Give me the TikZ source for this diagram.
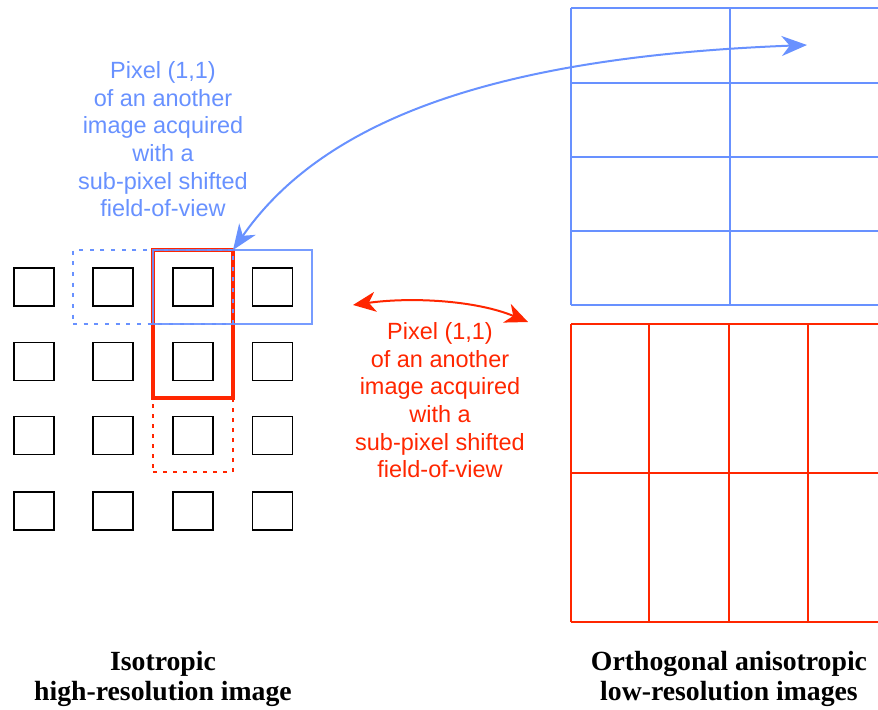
\documentclass[tikz,border=0pt]{standalone}
\usepackage{fontspec}
\setmainfont{Liberation Serif}
\setsansfont{Liberation Sans}
\usetikzlibrary{arrows.meta}
\definecolor{pixblue}{RGB}{104,145,255}
\definecolor{pixred}{RGB}{255,38,0}
\tikzset{
  pix/.style={draw=black, line width=1.45pt, minimum width=30pt, minimum height=28.5pt, inner sep=0pt},
  fovbox/.style={inner sep=0pt, outer sep=0pt},
  bluenote/.style={text=pixblue, font=\sffamily\fontsize{17.6}{20.8}\selectfont, align=center, inner sep=0pt},
  rednote/.style={text=pixred, font=\sffamily\fontsize{17.6}{20.8}\selectfont, align=center, inner sep=0pt},
  caption/.style={font=\bfseries\fontsize{20.8}{22.5}\selectfont, align=center, inner sep=0pt},
  bluelink/.style={draw=pixblue, line width=1.5pt, {Stealth[length=19pt,width=15pt,inset=6pt]}-{Stealth[length=19pt,width=15pt,inset=6pt]}},
  redlink/.style={draw=pixred, line width=1.5pt, {Stealth[length=17pt,width=15pt,inset=5pt]}-{Stealth[length=17pt,width=15pt,inset=5pt]}},
}
\begin{document}
\begin{tikzpicture}[x=0.75pt, y=-0.75pt]
\useasboundingbox (0,0) rectangle (878,710);
\clip (0,0) rectangle (878,710);

% high-resolution pixel lattice
\foreach \c/\x in {1/34,2/113,3/193,4/272.5}
  \foreach \r/\y in {1/287,2/361.5,3/435.5,4/511}
    \node[pix] (p\r\c) at (\x,\y) {};

% red field of view: one low-resolution pixel and its shifted copy
\node[fovbox, draw=pixred, line width=3pt, minimum width=60pt, minimum height=111pt] (redfov) at (193,324) {};
\node[fovbox, draw=pixred, line width=1.5pt, dash pattern=on 3pt off 4.5pt, minimum width=60pt, minimum height=55.5pt] (redshift) at (193,435) {};

% blue field of view: one low-resolution pixel and its shifted copy
\node[fovbox, draw=pixblue, line width=1.5pt, dash pattern=on 3pt off 5pt, minimum width=120pt, minimum height=55.5pt] (blueshift) at (153,287) {};
\node[fovbox, draw=pixblue, draw opacity=0.9, line width=1.5pt, minimum width=119.25pt, minimum height=55.5pt] (bluefov) at (232.5,287) {};

% blue low-resolution image (2 columns x 4 rows)
\begin{scope}[draw=pixblue, line width=1.5pt]
  \foreach \x in {571,730,889} \draw (\x,8) -- (\x,305);
  \foreach \y in {8,83,157,231,305} \draw (571,\y) -- (889,\y);
\end{scope}

% red low-resolution image (4 columns x 2 rows)
\begin{scope}[draw=pixred, line width=1.5pt]
  \foreach \x in {571,649,729,808,888} \draw (\x,324) -- (\x,622);
  \foreach \y in {324,473,622} \draw (571,\y) -- (888,\y);
\end{scope}

% notes
\node[bluenote, anchor=north] (bnote) at (163,61) {Pixel (1,1)\\of an another\\image acquired\\with a\\sub-pixel shifted\\field-of-view};
\node[rednote, anchor=north] (rnote) at (440,322) {Pixel (1,1)\\of an another\\image acquired\\with a\\sub-pixel shifted\\field-of-view};

% correspondence arrows
\coordinate (bluetip) at (807,45);
\draw[bluelink] (blueshift.north east) .. controls (330,110) and (520,56) .. (bluetip);
\coordinate (redL) at (353,305);
\coordinate (redR) at (528,322);
\draw[redlink] (redL) .. controls (410,297) and (475,300) .. (redR);

% captions
\node[caption, anchor=base] (capL) at (163,700) {Isotropic\\high-resolution image};
\node[caption, anchor=base] (capR) at (729,700) {Orthogonal anisotropic\\low-resolution images};
\end{tikzpicture}
\end{document}
